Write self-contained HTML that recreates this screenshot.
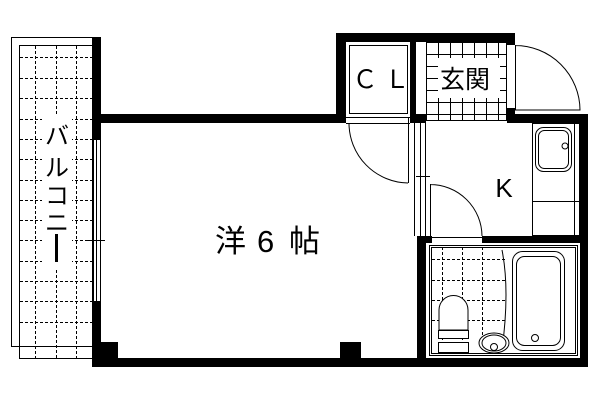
<!DOCTYPE html>
<html><head><meta charset="utf-8"><style>
html,body{margin:0;padding:0;background:#fff;width:600px;height:400px;overflow:hidden}
text{font-family:"Liberation Sans","Noto Sans CJK JP",sans-serif;fill:#000}
</style></head><body>
<svg width="600" height="400" viewBox="0 0 600 400" xmlns="http://www.w3.org/2000/svg">
<!-- balcony -->
<rect x="11.5" y="37.5" width="81" height="309" fill="none" stroke="#000"/>
<rect x="19.5" y="45.5" width="73" height="313" fill="none" stroke="#000"/>
<g stroke="#000" stroke-dasharray="3,2" stroke-width="1">
<line x1="35.5" y1="46" x2="35.5" y2="358"/><line x1="56.5" y1="46" x2="56.5" y2="115"/><line x1="56.5" y1="270" x2="56.5" y2="358"/><line x1="76.5" y1="46" x2="76.5" y2="358"/>
<line x1="20" y1="57.5" x2="92" y2="57.5"/><line x1="20" y1="78.5" x2="92" y2="78.5"/><line x1="20" y1="98.5" x2="92" y2="98.5"/><line x1="20" y1="119.5" x2="92" y2="119.5"/><line x1="20" y1="139.5" x2="92" y2="139.5"/><line x1="20" y1="159.5" x2="92" y2="159.5"/><line x1="20" y1="180.5" x2="92" y2="180.5"/><line x1="20" y1="200.5" x2="92" y2="200.5"/><line x1="20" y1="220.5" x2="92" y2="220.5"/><line x1="20" y1="240.5" x2="92" y2="240.5"/><line x1="20" y1="261.5" x2="92" y2="261.5"/><line x1="20" y1="281.5" x2="92" y2="281.5"/><line x1="20" y1="301.5" x2="92" y2="301.5"/><line x1="20" y1="322.5" x2="92" y2="322.5"/>
</g>
<rect x="42" y="114" width="30" height="154" fill="#fff"/>
<text x="57" y="144" font-size="24" text-anchor="middle">バ</text>
<text x="57" y="176" font-size="24" text-anchor="middle">ル</text>
<text x="57" y="204" font-size="24" text-anchor="middle">コ</text>
<text x="57" y="231" font-size="24" text-anchor="middle">ニ</text>
<rect x="55" y="234" width="3" height="28" fill="#000"/>
<!-- main walls -->
<g fill="#000">
<rect x="92" y="37" width="9" height="103"/>
<rect x="92" y="301" width="9" height="66"/>
<rect x="101" y="114" width="237" height="9"/>
<rect x="92" y="358" width="496" height="9"/>
<rect x="101" y="342" width="17" height="16"/>
<rect x="340" y="342" width="21" height="16"/>
<rect x="336" y="33" width="179" height="9"/>
<rect x="336" y="33" width="10" height="90"/>
<rect x="410" y="33" width="16" height="8"/>
<rect x="410" y="42" width="6" height="72"/>
<rect x="507" y="33" width="8" height="12"/>
<rect x="507" y="108" width="8" height="15"/>
<rect x="338" y="114" width="8" height="9"/>
<rect x="410" y="114" width="16" height="9"/>
<rect x="507" y="114" width="81" height="9"/>
<rect x="580" y="114" width="8" height="253"/>
<rect x="426" y="236" width="6" height="7"/>
<rect x="482" y="236" width="106" height="7"/>
<rect x="417" y="236" width="9" height="131"/>
</g>
<g stroke="#000" fill="none">
<line x1="93.5" y1="140" x2="93.5" y2="301"/><line x1="96.5" y1="140" x2="96.5" y2="301"/><line x1="100.5" y1="140" x2="100.5" y2="301"/>
<line x1="88" y1="240.5" x2="105" y2="240.5"/>
<rect x="349.5" y="45.5" width="58" height="68"/>
<path d="M346 123.5 H410 M346 117.5 H410"/>
<path d="M408.5 117 V183 M349 123 A60 60 0 0 0 408 183"/>
<rect x="426.5" y="42.5" width="80" height="78"/>
</g>
<g stroke="#000" stroke-width="1">
<line x1="438.5" y1="42" x2="438.5" y2="120"/><line x1="450.5" y1="42" x2="450.5" y2="120"/><line x1="462.5" y1="42" x2="462.5" y2="120"/><line x1="474.5" y1="42" x2="474.5" y2="120"/><line x1="486.5" y1="42" x2="486.5" y2="120"/><line x1="498.5" y1="42" x2="498.5" y2="120"/>
<line x1="426" y1="54.5" x2="507" y2="54.5"/><line x1="426" y1="66.5" x2="507" y2="66.5"/><line x1="426" y1="78.5" x2="507" y2="78.5"/><line x1="426" y1="90.5" x2="507" y2="90.5"/><line x1="426" y1="102.5" x2="507" y2="102.5"/><line x1="426" y1="114.5" x2="507" y2="114.5"/>
</g>
<rect x="438" y="58" width="62" height="40" fill="#fff"/>
<text x="465" y="88" font-size="25" text-anchor="middle">玄関</text>
<rect x="355" y="58" width="50" height="36" fill="#fff"/>
<text x="381" y="88" font-size="25" text-anchor="middle">Ｃ Ｌ</text>
<g stroke="#000" fill="none">
<path d="M515.5 45 V110 M515 45.5 A65 65 0 0 1 580 110 H515"/>
<line x1="414.5" y1="123" x2="414.5" y2="236"/><line x1="420.5" y1="123" x2="420.5" y2="236"/><line x1="425.5" y1="123" x2="425.5" y2="236"/>
<line x1="416" y1="176.5" x2="430" y2="176.5"/>
<path d="M430.5 184 V236 M430 184.5 A52 52 0 0 1 482 236 M431 237.5 H482"/>
<rect x="532.5" y="123.5" width="47" height="112"/>
<line x1="532" y1="201.5" x2="580" y2="201.5"/>
<line x1="574.5" y1="123" x2="574.5" y2="236"/>
<rect x="535.5" y="127.5" width="36" height="44" rx="8"/>
<rect x="538.5" y="130.5" width="30" height="38" rx="6"/>
<circle cx="565" cy="146" r="3"/>
<rect x="429.5" y="245.5" width="148" height="110"/>
<rect x="431.5" y="247.5" width="144" height="106"/>
<rect x="512.5" y="251.5" width="52" height="99" rx="10"/>
<rect x="516.5" y="256.5" width="44" height="89" rx="8"/>
<circle cx="535" cy="338" r="3.5"/>
<path d="M502 250 Q510 290 502 350"/>
</g>
<g stroke="#000" stroke-dasharray="3,2">
<line x1="442.5" y1="247" x2="442.5" y2="352"/><line x1="462.5" y1="247" x2="462.5" y2="352"/><line x1="482.5" y1="247" x2="482.5" y2="352"/>
<line x1="432" y1="259.5" x2="505" y2="259.5"/><line x1="432" y1="280.5" x2="505" y2="280.5"/><line x1="432" y1="300.5" x2="505" y2="300.5"/><line x1="432" y1="320.5" x2="505" y2="320.5"/>
</g>
<g stroke="#000" fill="#fff">
<path d="M439 330 V310 A14 14 0 0 1 468 310 V330 Z"/>
<rect x="438.5" y="330.5" width="30" height="8"/>
<rect x="438.5" y="342.5" width="30" height="10"/>
<ellipse cx="494" cy="343" rx="15" ry="10"/>
<ellipse cx="494" cy="343" rx="12" ry="8" fill="none"/>
<circle cx="494" cy="347" r="3.5" fill="none"/>
</g>
<text x="504" y="197" font-size="26" text-anchor="middle">K</text>
<text x="215" y="252" font-size="31">洋</text>
<text x="257" y="252" font-size="31">6</text>
<text x="289" y="252" font-size="31">帖</text>
</svg>
</body></html>
